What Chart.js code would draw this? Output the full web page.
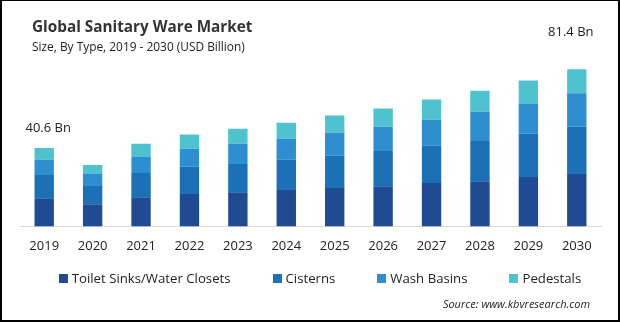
<!DOCTYPE html>
<html>
<head>
<meta charset="utf-8">
<script src="https://cdn.jsdelivr.net/npm/chart.js@4/dist/chart.umd.min.js"></script>
<style>
  html, body { margin: 0; padding: 0; background: #fff; }
  body { width: 620px; height: 322px; overflow: hidden; font-family: "Open Sans", sans-serif; }
  .frame { position: relative; width: 620px; height: 322px; box-sizing: border-box;
           border: 2px solid #000; border-top-width: 1px; }
  .title { position: absolute; left: 30px; top: 15px; font-size: 15.3px; font-weight: 700; color: #333; }
  .subtitle { position: absolute; left: 30px; top: 37px; font-size: 11.9px; color: #222; }
  .chart-box { position: absolute; left: -2px; top: -1px; width: 620px; height: 322px; }
  .legend { position: absolute; left: 20px; top: 268px; width: 596px; display: flex; justify-content: center;
            gap: 42px; font-size: 13.2px; color: #222; }
  .legend span.item { display: flex; align-items: center; }
  .legend i { display: inline-block; width: 9px; height: 9px; margin-right: 4px; }
  .source { position: absolute; right: 28px; top: 295px; font-size: 11px; font-style: italic; color: #222; }
</style>
</head>
<body>
<div class="frame">
  <div class="chart-box"><canvas id="market-chart"></canvas></div>
  <div class="title">Global Sanitary Ware Market</div>
  <div class="subtitle">Size, By Type, 2019 - 2030 (USD Billion)</div>
  <div class="legend" id="legend"></div>
  <div class="source">Source: www.kbvresearch.com</div>
</div>
<script>
// Dados (USD Billion)
const years = ['2019', '2020', '2021', '2022', '2023', '2024', '2025', '2026', '2027', '2028', '2029', '2030'];
const toiletSinks = [14.6, 11.5, 15.1, 16.7, 17.7, 18.8, 19.8, 20.8, 22.4, 23.4, 25.5, 27.1];
const cisterns    = [12.0,  9.4, 12.5, 14.1, 14.6, 15.6, 16.7, 18.2, 19.3, 20.8, 22.4, 24.5];
const washBasins  = [ 7.8,  6.2,  8.3,  9.4, 10.4, 10.9, 12.0, 12.5, 13.5, 15.1, 15.6, 17.2];
const pedestals   = [ 6.2,  4.7,  6.8,  7.3,  7.8,  8.3,  8.9,  9.4, 10.4, 10.9, 12.0, 12.5];
const seriesNames = ['Toilet Sinks/Water Closets', 'Cisterns', 'Wash Basins', 'Pedestals'];
const seriesColors = ['#1f4b93', '#1b70b6', '#2e8fd0', '#4ec2cf'];
const valueLabels = { 0: '40.6 Bn', 11: '81.4 Bn' };

// Plugin para os rótulos de valor acima das barras
const valueLabelPlugin = {
    id: 'valueLabels',
    afterDatasetsDraw(chart) {
        const ctx = chart.ctx;
        const topMeta = chart.getDatasetMeta(chart.data.datasets.length - 1);
        const offsets = { 0: { dx: 4, dy: 20 }, 11: { dx: -6, dy: 37 } };
        ctx.save();
        ctx.font = '13px "Open Sans", sans-serif';
        ctx.fillStyle = '#222';
        ctx.textAlign = 'center';
        ctx.textBaseline = 'middle';
        Object.keys(valueLabels).forEach(i => {
            const bar = topMeta.data[i];
            ctx.fillText(valueLabels[i], bar.x + offsets[i].dx, bar.y - offsets[i].dy);
        });
        ctx.restore();
    }
};

const dataSeries = [toiletSinks, cisterns, washBasins, pedestals];

new Chart(document.getElementById('market-chart').getContext('2d'), {
    type: 'bar',
    data: {
        labels: years,
        datasets: dataSeries.map((values, i) => ({
            label: seriesNames[i],
            data: values,
            backgroundColor: seriesColors[i],
            borderWidth: 0,
            barPercentage: 0.4,
            categoryPercentage: 1
        }))
    },
    options: {
        responsive: true,
        maintainAspectRatio: false,
        animation: false,
        layout: { padding: { left: 20, right: 19, top: 33, bottom: 56 } },
        plugins: { legend: { display: false }, tooltip: { enabled: false } },
        scales: {
            x: {
                stacked: true,
                grid: { display: false, drawTicks: false },
                border: { display: true, color: '#d9d9d9', width: 1 },
                ticks: { color: '#222', font: { family: '"Open Sans", sans-serif', size: 13 }, padding: 12 }
            },
            y: { stacked: true, display: false, min: 0, max: 100 }
        }
    },
    plugins: [valueLabelPlugin]
});

// Legenda em HTML
const legend = document.getElementById('legend');
seriesNames.forEach((name, i) => {
    const item = document.createElement('span');
    item.className = 'item';
    item.innerHTML = `<i style="background:${seriesColors[i]}"></i>${name}`;
    legend.appendChild(item);
});
</script>
</body>
</html>
